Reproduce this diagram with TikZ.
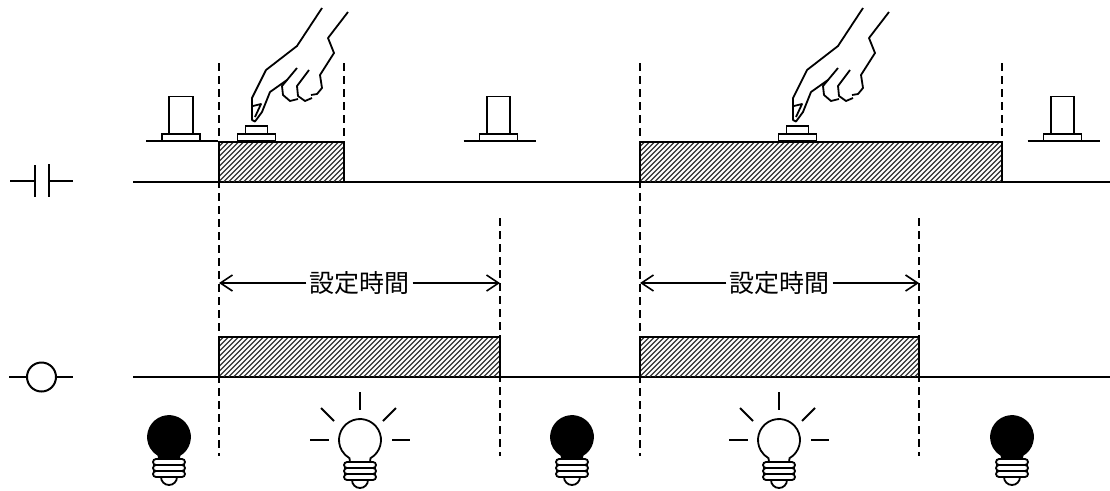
\documentclass[tikz,border=0pt]{standalone}
\usepackage{fontspec}
\newfontfamily\cjk{Noto Sans CJK JP}
\usetikzlibrary{arrows.meta}
\newcommand\hatchbox[4]{% left, top, right, bottom
  \begin{scope}
    \clip (#1,#2) rectangle (#3,#4);
    \foreach \s [evaluate=\s as \xs using #1-45+\s] in {0,5,...,420}
      \draw[hatchline] (\xs,#4) -- ++(45,-45);
  \end{scope}
  \draw[outline] (#1,#4) -- (#1,#2) -- (#3,#2) -- (#3,#4);
}
\begin{document}
\begin{tikzpicture}[x=1pt,y=-1pt,
  outline/.style={line width=2},
  hatchline/.style={line width=1.2,black!80},
  guide/.style={line width=2,dash pattern=on 8 off 5},
  thinline/.style={line width=1.8},
  arrowline/.style={line width=1.6,-{Straight Barb[length=12,width=16,line width=1.6]}},
  label/.style={font=\cjk\fontsize{25}{25}\selectfont,inner sep=3},
  darkbulb/.pic={
    \filldraw[thinline] (10.5,18.2) arc[start angle=60,end angle=-240,radius=21]
      -- (-10,22) -- (10,22) -- cycle;
    \foreach \t in {22,28,34}
      \draw[thinline,fill=white,rounded corners=3] (-16,\t) rectangle (16,\t+6);
    \draw[thinline] (-8,40) arc[start angle=180,end angle=0,radius=8];
  },
  litbulb/.pic={
    \draw[thinline,fill=white] (10.5,18.2) arc[start angle=60,end angle=-240,radius=21]
      -- (-10,22) -- (10,22) -- cycle;
    \foreach \t in {22,28,34}
      \draw[thinline,fill=white,rounded corners=3] (-16,\t) rectangle (16,\t+6);
    \draw[thinline] (-8,40) arc[start angle=180,end angle=0,radius=8];
    \draw[thinline] (0,-48) -- (0,-30);
    \draw[thinline] (-39,-32) -- (-26,-19);
    \draw[thinline] (36,-32) -- (23,-19);
    \draw[thinline] (-50,0) -- (-31,0);
    \draw[thinline] (32,0) -- (50,0);
  },
  upbutton/.pic={
    \draw[thinline] (-35,7) -- (37,7);
    \draw[thinline,fill=white] (-19,0) rectangle (19,7);
    \draw[thinline,fill=white] (-11.7,-37.5) rectangle (11.7,0);
  },
  downbutton/.pic={
    \draw[thinline,fill=white] (-19,0) rectangle (19,7);
    \draw[thinline,fill=white] (-11,-8) rectangle (11,0);
  },
  hand/.pic={
    % pointing hand; origin at the tip of the finger
    \begin{scope}[shift={(-256,-121)},thinline,line join=round]
      \draw (322,8) -- (297,46) -- (266,70) -- (252,98) -- (252,120) -- (255,121.5)
            -- (262,112) -- (270,92) -- (287,80);
      \draw (253,106) -- (261,104) -- (255,117);
      \draw (297,68) -- (282,86) -- (283,95) -- (290,101) -- (298,99);
      \draw (309,70) -- (297,86) -- (298,96) -- (305,101) -- (312,98);
      \draw (348,12) -- (328,38) -- (334,53) -- (320,75) -- (322,88) -- (317,94) -- (311,95);
    \end{scope}
  }
]
\useasboundingbox (0,0) rectangle (1110,490);

% ---- guide lines (drawn first, under everything else)
\draw[guide] (219,63) -- (219,456);
\draw[guide] (344,63) -- (344,141.5);
\draw[guide] (640,63) -- (640,456);
\draw[guide] (1002,63) -- (1002,141.5);
\draw[guide] (500,218) -- (500,456);
\draw[guide] (919,218) -- (919,456);

% ---- contact row
\draw[outline] (10,181) -- (35,181);
\draw[outline] (35,165) -- (35,197);
\draw[outline] (48.5,164) -- (48.5,197);
\draw[outline] (48.5,181) -- (73,181);
\draw[outline] (133,181.5) -- (1110,181.5);
\hatchbox{219}{141.5}{344}{181.5}
\hatchbox{640}{141.5}{1002}{181.5}

% push buttons
\pic at (181,134) {upbutton};
\pic at (498.5,134) {upbutton};
\pic at (1062.5,134) {upbutton};
\pic at (256.5,134) {downbutton};
\pic at (797.5,134) {downbutton};
\pic at (256,121) {hand};
\pic at (797,121) {hand};

% ---- timer interval
\coordinate (a1l) at (219,283);
\coordinate (a1r) at (500,283);
\coordinate (a2l) at (640,283);
\coordinate (a2r) at (919,283);
\node[label] (t1) at (359.5,283) {設定時間};
\node[label] (t2) at (779.5,283) {設定時間};
\draw[arrowline] (t1.west) -- (a1l);
\draw[arrowline] (t1.east) -- (a1r);
\draw[arrowline] (t2.west) -- (a2l);
\draw[arrowline] (t2.east) -- (a2r);

% ---- coil row
\draw[outline] (9,377) -- (27,377);
\draw[outline] (41.5,377) circle[radius=14.5];
\draw[outline] (56,377) -- (73,377);
\draw[outline] (133,376.5) -- (1110,376.5);
\hatchbox{219}{336.5}{500}{376.5}
\hatchbox{640}{336.5}{919}{376.5}

% ---- lamps
\pic at (169,437) {darkbulb};
\pic at (360,440) {litbulb};
\pic at (572,437) {darkbulb};
\pic at (779,440) {litbulb};
\pic at (1012,437) {darkbulb};
\end{tikzpicture}
\end{document}
